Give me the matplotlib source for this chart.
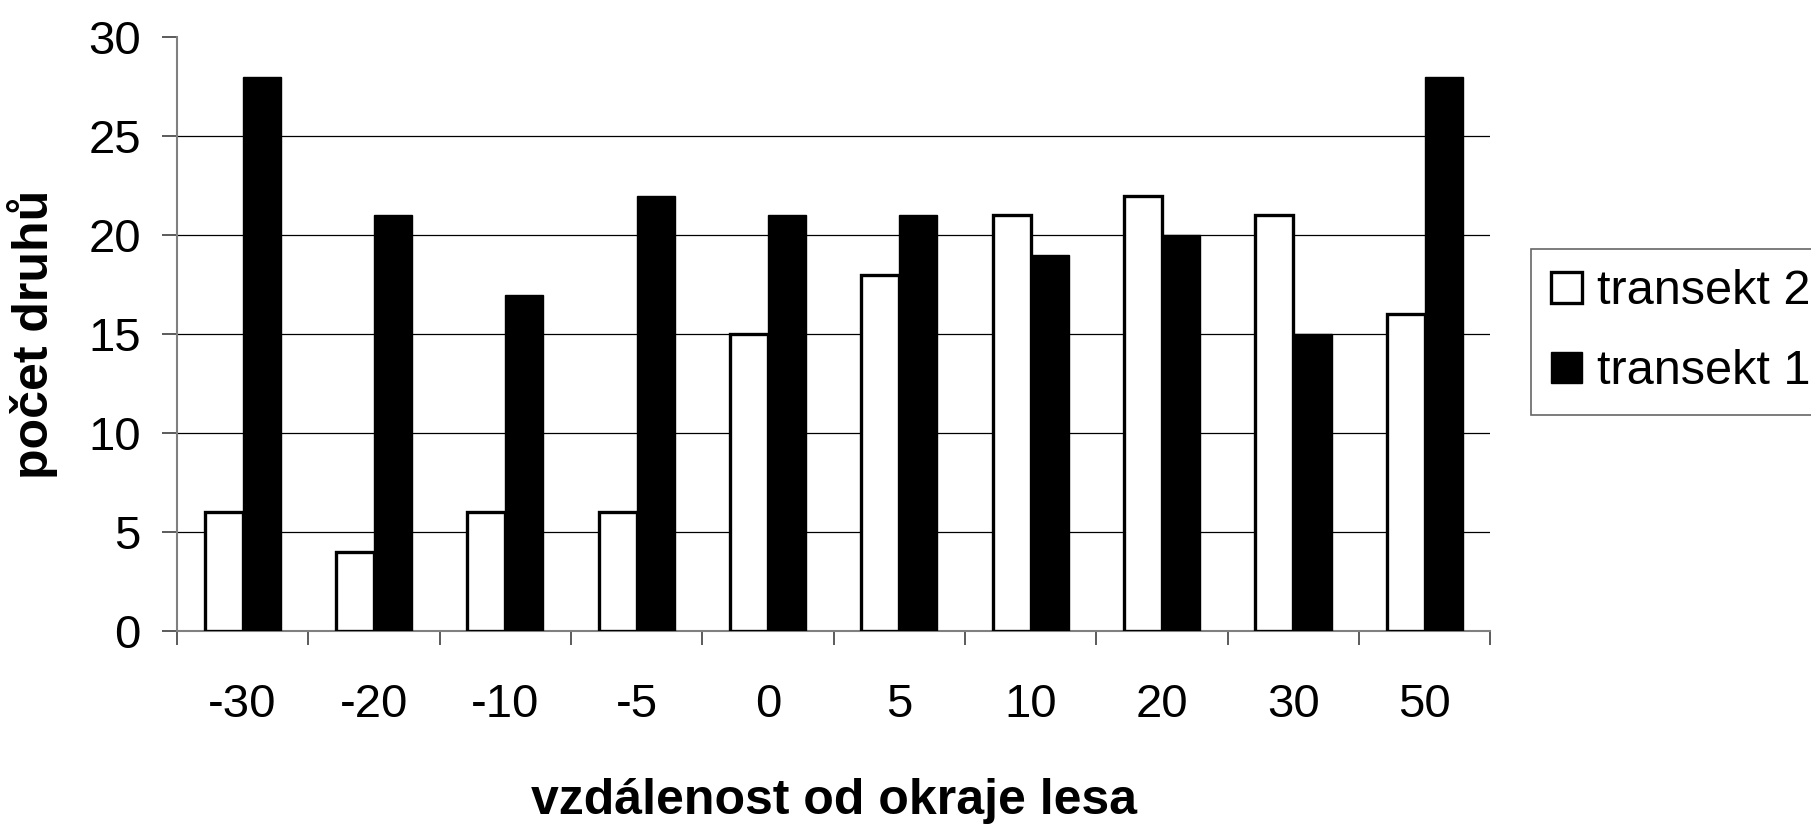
import numpy as np
import matplotlib.pyplot as plt

# data
vzdalenost = ["-30", "-20", "-10", "-5", "0", "5", "10", "20", "30", "50"]
transekt_2 = [6, 4, 6, 6, 15, 18, 21, 22, 21, 16]
transekt_1 = [28, 21, 17, 22, 21, 21, 19, 20, 15, 28]

plt.rcParams['font.family'] = ['Liberation Sans', 'DejaVu Sans']

fig = plt.figure(figsize=(18.11, 8.24), dpi=100)
ax = fig.add_axes([0.0977, 0.234, 0.7253, 0.721])

x = np.arange(len(vzdalenost))
w = 0.29
ax.bar(x - w / 2, transekt_2, w, color='white', edgecolor='black', linewidth=2.4,
       label='transekt 2', zorder=3)
ax.bar(x + w / 2, transekt_1, w, color='black', edgecolor='black', linewidth=1,
       label='transekt 1', zorder=3)

ax.set_xlim(-0.5, len(vzdalenost) - 0.5)
ax.set_ylim(0, 30)
ax.set_yticks(range(0, 31, 5))
for y in range(5, 30, 5):
    ax.axhline(y, color='black', linewidth=0.9, zorder=1)

# category ticks at boundaries, labels at centres
ax.set_xticks(np.arange(-0.5, len(vzdalenost), 1))
ax.set_xticklabels([])
ax.set_xticks(x, minor=True)
ax.set_xticklabels(vzdalenost, minor=True, fontsize=34)
ax.tick_params(axis='x', which='major', direction='out', length=10, width=1.2, color='#404040')
ax.tick_params(axis='x', which='minor', length=0, pad=37)
ax.tick_params(axis='y', direction='out', length=11, width=1.2, color='#404040',
               labelsize=34, pad=15)

for s in ['top', 'right']:
    ax.spines[s].set_visible(False)
for s in ['left', 'bottom']:
    ax.spines[s].set_color('#808080')
    ax.spines[s].set_linewidth(1.5)

ax.set_ylabel('počet druhů', fontsize=36, fontweight='bold')
ax.yaxis.set_label_coords(-0.0906, 0.5)
ax.set_xlabel('vzdálenost od okraje lesa', fontsize=36, fontweight='bold')
ax.xaxis.set_label_coords(0.5, -0.3077)
ax.xaxis.label.set_va('baseline')

handles, labels = ax.get_legend_handles_labels()
leg = fig.legend(handles, labels, loc='upper left', bbox_to_anchor=(0.8454, 0.6978),
                 borderaxespad=0, fontsize=35, frameon=True, fancybox=False,
                 edgecolor='#404040', handlelength=0.62, handleheight=0.62,
                 handletextpad=0.31, labelspacing=0.72, borderpad=0.42)
leg.get_frame().set_linewidth(1.2)

fig.savefig('out.png', dpi=100)
